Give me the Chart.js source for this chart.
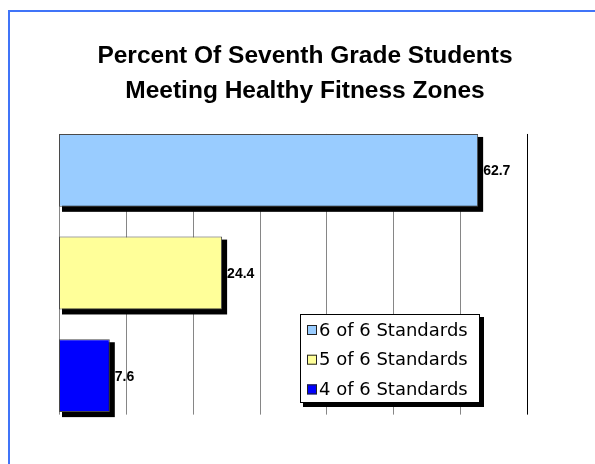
<!DOCTYPE html>
<html>
<head>
<meta charset="utf-8">
<script src="https://cdn.jsdelivr.net/npm/chart.js@4.4.1/dist/chart.umd.min.js"></script>
<style>
  html, body { margin: 0; padding: 0; background: #fff; }
  #wrap { width: 595px; height: 464px; position: relative; }
</style>
</head>
<body>
<div id="wrap"><canvas id="fitnessChart" width="595" height="464"></canvas></div>
<script>
const titleLines = ['Percent Of Seventh Grade Students', 'Meeting Healthy Fitness Zones'];
const categories = ['6 of 6 Standards', '5 of 6 Standards', '4 of 6 Standards'];
const percentages = [62.7, 24.4, 7.6];
const barColors = ['#99CCFF', '#FFFF99', '#0000FF'];
const gridMax = 70; // last drawn gridline

// Frame around the whole picture
const framePlugin = {
    id: 'frame',
    beforeDraw(chart) {
        const c = chart.ctx;
        c.save();
        c.fillStyle = '#fff';
        c.fillRect(0, 0, chart.width, chart.height);
        c.strokeStyle = '#4074f8';
        c.lineWidth = 2;
        c.strokeRect(9, 11, chart.width + 20, chart.height + 20);
        c.restore();
    }
};

// Vertical gridlines, bar shadows, value labels
const barExtras = {
    id: 'barExtras',
    beforeDatasetsDraw(chart) {
        const c = chart.ctx;
        const x = chart.scales.x;
        const bars = chart.getDatasetMeta(0).data;
        const top = bars[0].y - bars[0].height / 2;
        const bottom = bars[bars.length - 1].y + bars[bars.length - 1].height / 2 + 2.5;
        c.save();
        x.ticks.filter(t => Math.abs(t.value % 10) < 1e-6 && t.value <= gridMax + 1e-6).forEach(t => {
            const px = Math.round(x.getPixelForValue(t.value)) + 0.5;
            c.strokeStyle = Math.abs(t.value - gridMax) < 1e-6 ? '#000' : '#868686';
            c.lineWidth = 1;
            c.beginPath();
            c.moveTo(px, top);
            c.lineTo(px, bottom);
            c.stroke();
        });
        // shadows
        c.fillStyle = '#000';
        bars.forEach(b => {
            const h = b.height;
            c.fillRect(b.base + 3, b.y - h / 2 + 3, b.x - b.base + 2, h + 2);
        });
        c.restore();
    },
    afterDatasetsDraw(chart) {
        const c = chart.ctx;
        const bars = chart.getDatasetMeta(0).data;
        c.save();
        c.font = 'bold 14px "Liberation Sans", Arial, sans-serif';
        c.fillStyle = '#000';
        c.textBaseline = 'middle';
        c.textAlign = 'left';
        bars.forEach((b, i) => {
            c.fillText(String(percentages[i]), b.x + 5, b.y + 1);
        });
        c.restore();
    }
};

// Legend box inside the plot
const boxLegend = {
    id: 'boxLegend',
    afterDraw(chart) {
        const c = chart.ctx;
        const left = 300, top = 314, w = 180, h = 89;
        c.save();
        c.fillStyle = '#000';
        c.fillRect(left + 3, top + 3, w + 1, h + 1);
        c.fillStyle = '#fff';
        c.fillRect(left, top, w, h);
        c.strokeStyle = '#000';
        c.lineWidth = 1;
        c.strokeRect(left + 0.5, top + 0.5, w - 1, h - 1);
        c.font = '18px "DejaVu Sans", sans-serif';
        c.textBaseline = 'middle';
        categories.forEach((cat, i) => {
            const cy = top + 16 + i * 29.7;
            c.fillStyle = barColors[i];
            c.fillRect(left + 7, cy - 5, 10, 10);
            c.strokeStyle = '#222';
            c.strokeRect(left + 7.5, cy - 4.5, 9, 9);
            c.fillStyle = '#000';
            c.fillText(cat, left + 19, cy + 1);
        });
        c.restore();
    }
};

new Chart(document.getElementById('fitnessChart'), {
    type: 'bar',
    data: {
        labels: categories,
        datasets: [{
            data: percentages,
            backgroundColor: barColors,
            borderColor: '#4a4a4a',
            borderWidth: 1,
            borderSkipped: false,
            barPercentage: 0.71,
            categoryPercentage: 1
        }]
    },
    options: {
        indexAxis: 'y',
        responsive: false,
        animation: false,
        layout: {
            padding: { left: 59, right: 44, top: 0, bottom: 37 }
        },
        scales: {
            x: {
                display: false,
                min: 0,
                max: 73.6,
                ticks: { stepSize: 10, includeBounds: false }
            },
            y: {
                display: false
            }
        },
        plugins: {
            legend: { display: false },
            tooltip: { enabled: false },
            title: {
                display: true,
                text: titleLines,
                color: '#000',
                font: { family: '"Liberation Sans", Arial, sans-serif', size: 24.5, weight: 'bold', lineHeight: 1.43 },
                padding: { top: 38.5, bottom: 10.5 }
            }
        }
    },
    plugins: [framePlugin, barExtras, boxLegend]
});
</script>
</body>
</html>
